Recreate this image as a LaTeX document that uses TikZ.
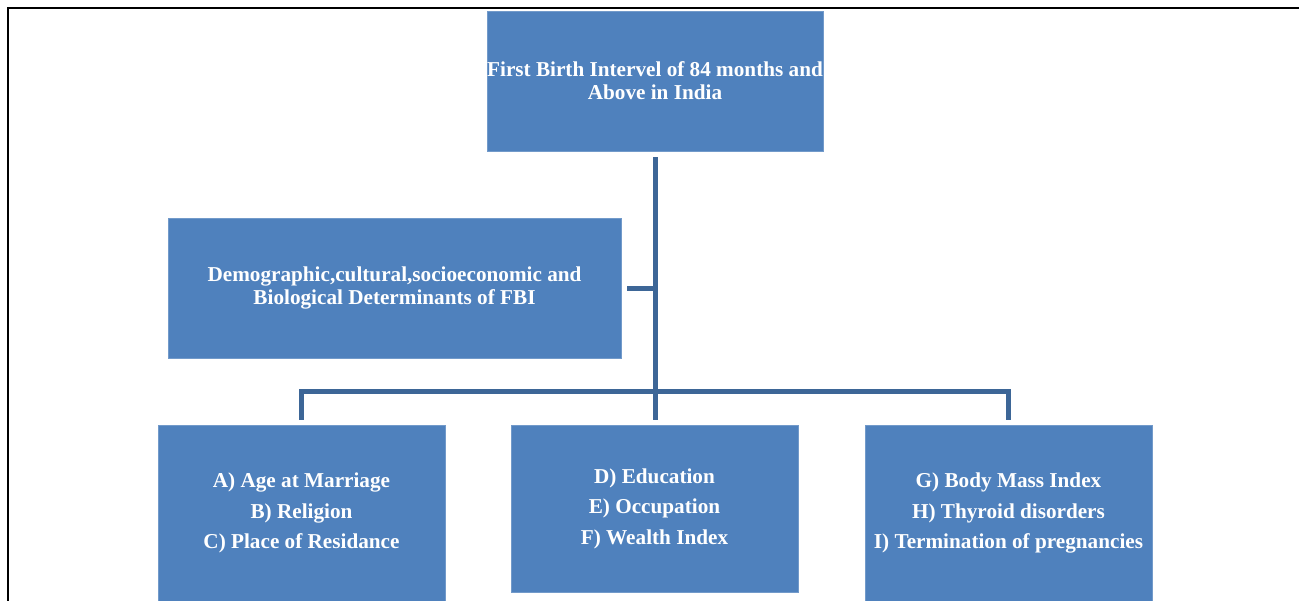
\documentclass[tikz,border=0pt]{standalone}
\usepackage{fontspec}
\setmainfont{Liberation Serif}
\definecolor{boxblue}{HTML}{4F81BD}
\definecolor{linkblue}{HTML}{3D6697}

\begin{document}
\begin{tikzpicture}[x=1pt,y=-1pt,
    box/.style={rectangle,fill=boxblue,draw=boxblue!80!white,line width=0.8pt,inner sep=0pt,
      align=center,text=white,font=\bfseries\fontsize{21.2}{23}\selectfont},
    link/.style={draw=linkblue,line width=5pt}]
      \useasboundingbox (0,0) rectangle (1299,600);
      \clip (0,0) rectangle (1299,600);
      \draw[line width=2pt] (8,620) |- (1320,8);

      \node[box,minimum width=336,minimum height=140] (fbi) at (655,81)
        {First Birth Intervel of 84 months and\\Above in India};
      \node[box,minimum width=453,minimum height=140] (det) at (394.5,288)
        {Demographic,cultural,socioeconomic and\\Biological Determinants of FBI};
      \node[box,minimum width=287,minimum height=176] (demo) at (301.5,513)
        {A) Age at Marriage\\[7.5pt]B) Religion\\[7.5pt]C) Place of Residance};
      \node[box,minimum width=287,minimum height=167] (socio) at (654.5,508.5)
        {D) Education\\[7.5pt]E) Occupation\\[7.5pt]F) Wealth Index};
      \node[box,minimum width=287,minimum height=176] (bio) at (1008.5,513)
        {G) Body Mass Index\\[7.5pt]H) Thyroid disorders\\[7.5pt]I) Termination of pregnancies};
      \coordinate (bus) at (655,391);

      \draw[link,shorten <=6pt,shorten >=5pt] (fbi.south) -- (fbi.south |- socio.north);
      \draw[link] ([xshift=6pt]det.east) -- (det.east -| fbi.south);
      \draw[link] ([yshift=5pt]demo.north) |- (bus) -| ([yshift=5pt]bio.north);
  \end{tikzpicture}
\end{document}
